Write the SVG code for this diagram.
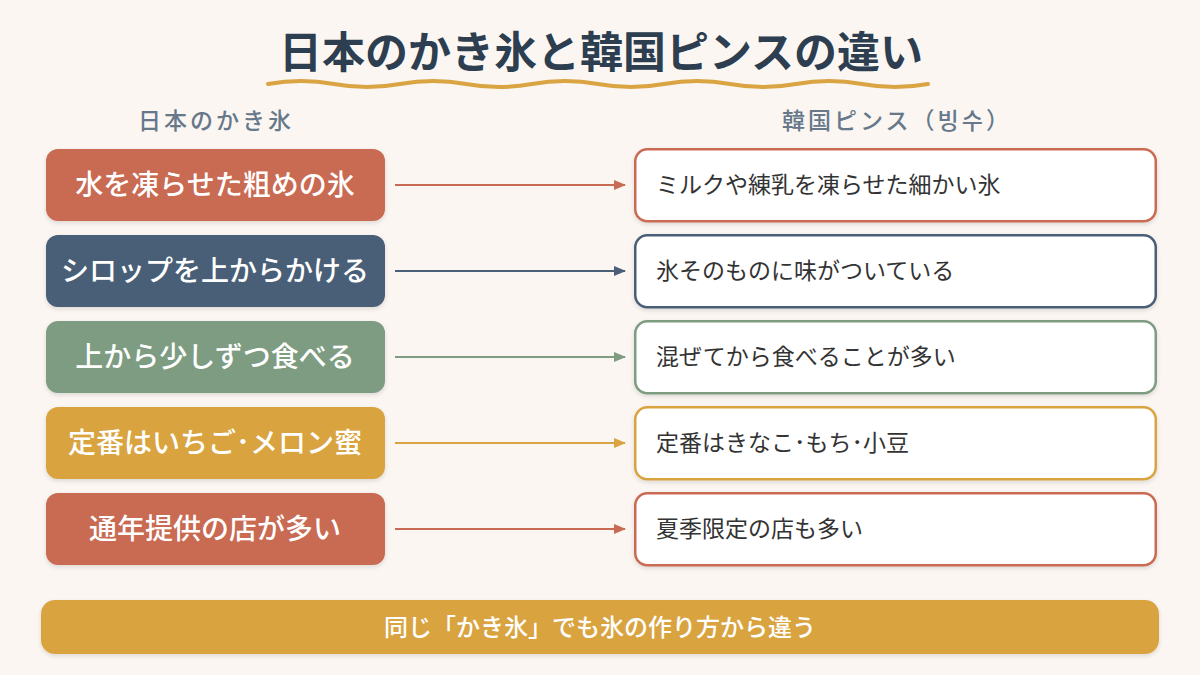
<svg xmlns="http://www.w3.org/2000/svg" width="1200" height="675" viewBox="0 0 1200 675">
<defs>
<style>
.t{font-family:"Noto Sans CJK JP","Noto Sans CJK KR",sans-serif}
.title{font-size:43px;font-weight:600;fill:#2c3e50;text-anchor:middle}
.hdr{font-size:23px;font-weight:500;fill:#66788a;text-anchor:middle;letter-spacing:3px}
.lt{font-size:28px;font-weight:500;fill:#fff;text-anchor:middle}
.rt{font-size:23px;fill:#333;}
.rb{fill:#fff;stroke-width:2.5}
.red{fill:#c96b52}.navy{fill:#4a5f78}.green{fill:#7d9c82}.gold{fill:#d9a441}
.sred{stroke:#c96b52}.snavy{stroke:#4a5f78}.sgreen{stroke:#7d9c82}.sgold{stroke:#d9a441}
.ar{stroke-width:2;fill:none}
</style>
<filter id="sh" x="-5%" y="-10%" width="110%" height="130%"><feDropShadow dx="0" dy="2" stdDeviation="2" flood-color="#000" flood-opacity="0.12"/></filter>
<marker id="mred" markerWidth="12" markerHeight="10" refX="11" refY="5" orient="auto" markerUnits="userSpaceOnUse"><path d="M0,0 L12,5 L0,10 z" fill="#c96b52"/></marker>
<marker id="mnavy" markerWidth="12" markerHeight="10" refX="11" refY="5" orient="auto" markerUnits="userSpaceOnUse"><path d="M0,0 L12,5 L0,10 z" fill="#4a5f78"/></marker>
<marker id="mgreen" markerWidth="12" markerHeight="10" refX="11" refY="5" orient="auto" markerUnits="userSpaceOnUse"><path d="M0,0 L12,5 L0,10 z" fill="#7d9c82"/></marker>
<marker id="mgold" markerWidth="12" markerHeight="10" refX="11" refY="5" orient="auto" markerUnits="userSpaceOnUse"><path d="M0,0 L12,5 L0,10 z" fill="#d9a441"/></marker>
</defs>
<rect width="1200" height="675" fill="#fbf6f2"/>
<g id="title">
<text class="t title" x="601" y="68">日本のかき氷と韓国ピンスの違い</text>
<path d="M268,84 Q301,78 334,84 T400,84 T466,84 T532,84 T598,84 T664,84 T730,84 T796,84 T862,84 T928,84" fill="none" stroke="#d9a441" stroke-width="4" stroke-linecap="round"/>
</g>
<g id="headers">
<text class="t hdr" x="216" y="129">日本のかき氷</text>
<text class="t hdr" x="897" y="129">韓国ピンス（빙수）</text>
</g>
<g id="connectors">
<line class="ar sred" x1="395" y1="185" x2="625" y2="185" marker-end="url(#mred)"/>
<line class="ar snavy" x1="395" y1="271" x2="625" y2="271" marker-end="url(#mnavy)"/>
<line class="ar sgreen" x1="395" y1="357" x2="625" y2="357" marker-end="url(#mgreen)"/>
<line class="ar sgold" x1="395" y1="443" x2="625" y2="443" marker-end="url(#mgold)"/>
<line class="ar sred" x1="395" y1="529" x2="625" y2="529" marker-end="url(#mred)"/>
</g>
<g id="l1"><rect class="red" x="46" y="149" width="339" height="72" rx="12" filter="url(#sh)"/><text class="t lt" x="215" y="195">水を凍らせた粗めの氷</text></g>
<g id="l2"><rect class="navy" x="46" y="235" width="339" height="72" rx="12" filter="url(#sh)"/><text class="t lt" x="215" y="281">シロップを上からかける</text></g>
<g id="l3"><rect class="green" x="46" y="321" width="339" height="72" rx="12" filter="url(#sh)"/><text class="t lt" x="215" y="367">上から少しずつ食べる</text></g>
<g id="l4"><rect class="gold" x="46" y="407" width="339" height="72" rx="12" filter="url(#sh)"/><text class="t lt" x="215" y="453">定番はいちご･メロン蜜</text></g>
<g id="l5"><rect class="red" x="46" y="493" width="339" height="72" rx="12" filter="url(#sh)"/><text class="t lt" x="215" y="539">通年提供の店が多い</text></g>
<g id="r1"><rect class="rb sred" x="635.25" y="149.25" width="520.5" height="72" rx="12" filter="url(#sh)"/><text class="t rt" x="656" y="193">ミルクや練乳を凍らせた細かい氷</text></g>
<g id="r2"><rect class="rb snavy" x="635.25" y="235.25" width="520.5" height="72" rx="12" filter="url(#sh)"/><text class="t rt" x="656" y="279">氷そのものに味がついている</text></g>
<g id="r3"><rect class="rb sgreen" x="635.25" y="321.25" width="520.5" height="72" rx="12" filter="url(#sh)"/><text class="t rt" x="656" y="365">混ぜてから食べることが多い</text></g>
<g id="r4"><rect class="rb sgold" x="635.25" y="407.25" width="520.5" height="72" rx="12" filter="url(#sh)"/><text class="t rt" x="656" y="451">定番はきなこ･もち･小豆</text></g>
<g id="r5"><rect class="rb sred" x="635.25" y="493.25" width="520.5" height="72" rx="12" filter="url(#sh)"/><text class="t rt" x="656" y="537">夏季限定の店も多い</text></g>
<g id="banner"><rect class="gold" x="41" y="600" width="1118" height="54" rx="14" filter="url(#sh)"/><text class="t" x="600" y="636" font-size="24" font-weight="500" fill="#fff" text-anchor="middle">同じ「かき氷」でも氷の作り方から違う</text></g>
</svg>
